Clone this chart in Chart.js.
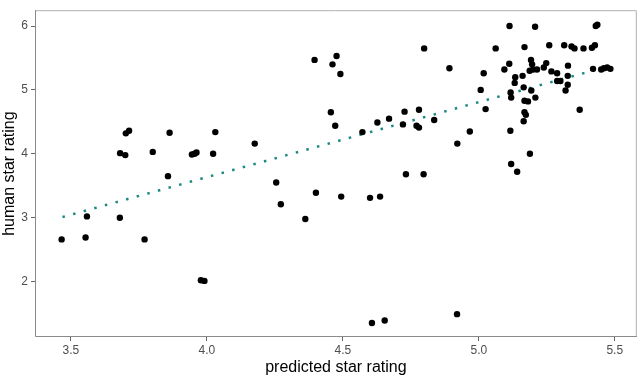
<!DOCTYPE html>
<html>
<head>
<meta charset="utf-8">
<title>human vs predicted star rating</title>
<script src="https://cdn.jsdelivr.net/npm/chart.js@4/dist/chart.umd.min.js"></script>
<style>
  html, body { margin: 0; padding: 0; background: #fff; overflow: hidden; }
  canvas { display: block; }
</style>
</head>
<body>
<canvas id="chart" width="640" height="378"></canvas>
<script>
// Values
const predicted = [
  3.466, 3.554, 3.559, 3.680, 3.771, 3.978, 3.991, 3.681, 3.700, 3.702,
  3.714, 3.801, 3.863, 3.857, 3.945, 3.955, 3.962, 4.023, 4.031, 4.176,
  4.255, 4.272, 4.362, 4.401, 4.494, 4.600, 4.637, 4.607, 4.654, 4.920,
  4.396, 4.477, 4.462, 4.491, 4.456, 4.472, 4.572, 4.627, 4.670, 4.727,
  4.721, 4.780, 4.771, 4.780, 4.836, 4.921, 4.732, 4.797, 4.799, 4.892,
  4.967, 5.007, 5.025, 5.018, 5.062, 5.113, 5.207, 5.430, 5.436, 5.168,
  5.259, 5.314, 5.341, 5.352, 5.385, 5.416, 5.427, 5.112, 5.094, 5.192,
  5.196, 5.187, 5.200, 5.214, 5.239, 5.248, 5.267, 5.288, 5.161, 5.134,
  5.132, 5.165, 5.193, 5.117, 5.119, 5.208, 5.168, 5.181, 5.168, 5.173,
  5.165, 5.116, 5.188, 5.119, 5.141, 5.328, 5.327, 5.288, 5.300, 5.327,
  5.319, 5.371, 5.420, 5.450, 5.460, 5.472, 5.484
];
const human = [
  2.66, 2.69, 3.02, 3.00, 2.66, 2.02, 2.01, 4.01, 3.98, 4.32,
  4.36, 4.03, 4.33, 3.65, 3.99, 4.00, 4.02, 4.00, 4.34, 4.16,
  3.55, 3.21, 2.98, 3.39, 3.33, 3.31, 3.33, 1.35, 1.39, 1.49,
  5.47, 5.53, 5.40, 5.25, 4.65, 4.44, 4.34, 4.49, 4.55, 4.66,
  4.46, 4.69, 4.44, 4.41, 4.53, 4.16, 3.68, 3.68, 5.65, 5.34,
  4.35, 5.00, 4.70, 5.26, 5.65, 6.00, 5.99, 6.00, 6.02, 5.67,
  5.70, 5.70, 5.68, 5.65, 5.65, 5.66, 5.70, 5.41, 5.32, 5.47,
  5.40, 5.30, 5.32, 5.32, 5.35, 5.42, 5.29, 5.26, 5.22, 5.20,
  5.11, 5.04, 4.99, 4.96, 4.88, 4.88, 4.83, 4.82, 4.65, 4.61,
  4.51, 4.36, 4.00, 3.84, 3.72, 5.38, 5.22, 5.14, 5.14, 5.08,
  4.99, 4.69, 5.33, 5.32, 5.34, 5.35, 5.33
];

// fitted line, ends only
const fitX = [3.469, 5.484];
const fitY = [3.01, 5.378];

const xTicks = [3.5, 4.0, 4.5, 5.0, 5.5];
const yTicks = [2, 3, 4, 5, 6];

const FONT = "'Liberation Sans', Arial, sans-serif";

// box around the panel
const panelBorder = {
  id: 'panelBorder',
  afterDraw(chart) {
    const { ctx, chartArea: a } = chart;
    ctx.save();
    ctx.lineWidth = 1;
    ctx.strokeStyle = '#b0b0b0';
    ctx.beginPath();
    ctx.moveTo(a.left, a.top + 0.5);
    ctx.lineTo(a.right - 0.5, a.top + 0.5);
    ctx.lineTo(a.right - 0.5, a.bottom);
    ctx.stroke();
    ctx.strokeStyle = '#8a8a8a';
    ctx.beginPath();
    ctx.moveTo(a.left + 0.5, a.top);
    ctx.lineTo(a.left + 0.5, a.bottom - 0.5);
    ctx.lineTo(a.right, a.bottom - 0.5);
    ctx.stroke();
    ctx.restore();
  }
};

const ctx = document.getElementById('chart').getContext('2d');
new Chart(ctx, {
  type: 'scatter',
  data: {
    datasets: [
      {
        label: 'ratings',
        data: predicted.map((x, i) => ({ x: x, y: human[i] })),
        backgroundColor: '#000',
        borderColor: '#000',
        pointRadius: 3.2,
        pointHoverRadius: 3.2,
        borderWidth: 0
      },
      {
        type: 'line',
        label: 'fit',
        data: fitX.map((x, i) => ({ x: x, y: fitY[i] })),
        borderColor: '#1b8a82',
        borderWidth: 2.5,
        borderDash: [2.5, 8.5],
        pointRadius: 0,
        fill: false
      }
    ]
  },
  options: {
    responsive: false,
    animation: false,
    devicePixelRatio: 1,
    layout: { padding: { top: 1, right: 2, left: 0, bottom: 0 } },
    plugins: { legend: { display: false }, tooltip: { enabled: false } },
    scales: {
      x: {
        type: 'linear',
        min: 3.368,
        max: 5.581,
        afterBuildTicks: s => { s.ticks = xTicks.map(v => ({ value: v })); },
        afterFit: s => { s.height = 41; },
        grid: { display: true, drawOnChartArea: false, drawTicks: true, tickLength: 4, color: '#666' },
        border: { display: false },
        ticks: {
          padding: 2,
          color: '#4d4d4d',
          font: { family: FONT, size: 12 },
          callback: v => v.toFixed(1)
        },
        title: {
          display: true,
          text: 'predicted star rating',
          color: '#000',
          font: { family: FONT, size: 16 },
          padding: { top: 0, bottom: 1 }
        }
      },
      y: {
        type: 'linear',
        min: 1.132,
        max: 6.248,
        afterBuildTicks: s => { s.ticks = yTicks.map(v => ({ value: v })); },
        afterFit: s => { s.width = 35; },
        grid: { display: true, drawOnChartArea: false, drawTicks: true, tickLength: 4, color: '#666' },
        border: { display: false },
        ticks: {
          padding: 3,
          color: '#4d4d4d',
          font: { family: FONT, size: 12 },
          callback: v => String(v)
        },
        title: {
          display: true,
          text: 'human star rating',
          color: '#000',
          font: { family: FONT, size: 16 },
          padding: { top: 0, bottom: 0 }
        }
      }
    }
  },
  plugins: [panelBorder]
});
</script>
</body>
</html>
